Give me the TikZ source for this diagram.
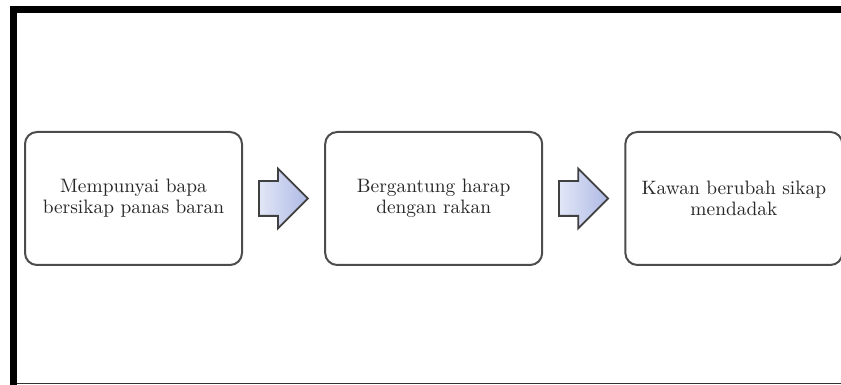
\documentclass[tikz,border=0pt]{standalone}
\usetikzlibrary{positioning, shapes.arrows}

\definecolor{arrowlight}{HTML}{E2E7F7}
\definecolor{arrowdark}{HTML}{AEB9E4}

\tikzset{
    stepbox/.style={draw=black!70, line width=1pt, rounded corners=6pt, fill=white,
        minimum width=108.5pt, minimum height=66.5pt, align=center,
        font=\fontsize{9.7}{10.5}\selectfont, text=black!85},
    blockarrow/.style={single arrow, draw=black!75, line width=0.9pt,
        left color=arrowlight, right color=arrowdark,
        minimum height=24.5pt, minimum width=0pt,
        inner xsep=0pt, inner ysep=8.25pt, text height=0pt, text depth=0pt,
        single arrow head extend=6.25pt}
}

\begin{document}
\begin{tikzpicture}[x=0.5pt, y=0.5pt, node distance=7.5pt]
        \useasboundingbox (0,0) rectangle (841,385);
        % frame
        \fill (10,0) rectangle (17,379);
        \fill (10,372) rectangle (841,379);
        \draw[line width=0.7pt, black!80] (17,1.5) -- (841,1.5);
        % steps
        \node[stepbox] (mempunyai) at (133.5,186.5) {Mempunyai bapa\\bersikap panas baran};
        \node[blockarrow, right=of mempunyai] (arrow1) {};
        \node[stepbox, right=of arrow1] (bergantung) {Bergantung harap\\dengan rakan};
        \node[blockarrow, right=of bergantung] (arrow2) {};
        \node[stepbox, right=of arrow2] (kawan) {Kawan berubah sikap\\mendadak};
    \end{tikzpicture}
\end{document}
